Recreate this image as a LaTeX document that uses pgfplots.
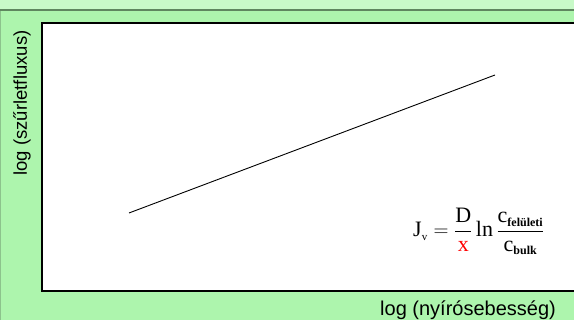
\documentclass[border=0pt]{standalone}
\usepackage{pgfplots}
\pgfplotsset{compat=1.18}
\usepackage{amsmath}
\usepackage{fontspec}
\setmainfont{Liberation Serif}
\newfontfamily\labelfont{Liberation Sans}
\definecolor{bgtop}{RGB}{200,250,200}
\definecolor{bggreen}{RGB}{173,245,173}
\definecolor{bgline}{RGB}{95,135,95}
\definecolor{bgedge}{RGB}{140,195,140}
\begin{document}
\begin{tikzpicture}[x=1pt,y=1pt]
\clip (0,0) rectangle (574,320);
% slide background
\fill[bggreen] (0,0) rectangle (574,320);
\fill[bgtop] (0,310) rectangle (574,320);
\draw[bgline, line width=2pt] (0,309.5) -- (574,309.5);
\draw[bgedge, line width=1.5pt] (0.5,0) -- (0.5,308.5);
\begin{axis}[
  at={(42pt,29pt)}, anchor=south west,
  scale only axis, width=545pt, height=268pt,
  xmin=42, xmax=587, ymin=29, ymax=297,
  xtick=\empty, ytick=\empty,
  axis line style={line width=1.5pt, black},
  axis background/.style={fill=white},
  clip=false]
\addplot[black, line width=0.9pt] coordinates {(129,107) (495,245)};
\end{axis}
% axis titles
\node[rotate=90, anchor=base, font=\labelfont\fontsize{18.5}{22}\selectfont, inner sep=0pt] at (27,217) {log (szűrletfluxus)};
\node[anchor=base west, font=\labelfont\fontsize{20}{24}\selectfont, inner sep=0pt] at (380,4) {log (nyírósebesség)};
% flux relation
\node[anchor=base west, inner sep=0pt, font=\fontsize{22}{26}\selectfont] at (413,83)
 {$\text{J}_{\text{\fontsize{11}{13}\selectfont v}}
   = \dfrac{\text{D}}{\text{\color{red}x}}\,\text{ln}\,
   \dfrac{\text{c}_{\text{\fontsize{12}{14}\selectfont\bfseries felületi}}}
         {\text{c}_{\text{\fontsize{12}{14}\selectfont\bfseries bulk}}}$};
\end{tikzpicture}
\end{document}
